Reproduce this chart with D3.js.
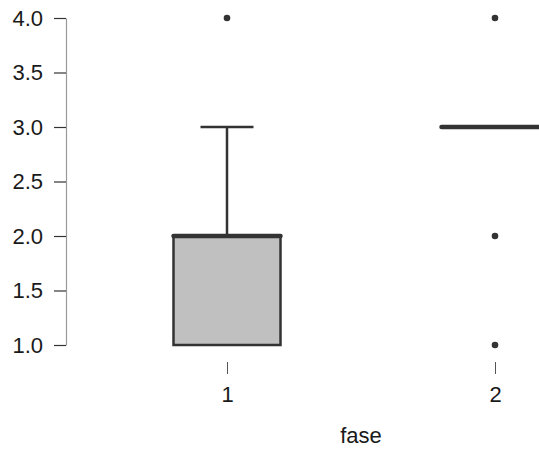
<!DOCTYPE html>
<html><head><meta charset="utf-8">
<script src="https://cdn.jsdelivr.net/npm/d3@7"></script>
<style>body{margin:0;background:#fff;overflow:hidden}svg{display:block}</style>
</head><body>
<svg id="c" width="539" height="450"></svg>
<script>
const categories = ["1", "2"];
const q1 = [1, 3];
const medians = [2, 3];
const q3 = [2, 3];
const whiskerLow = [1, 3];
const whiskerHigh = [3, 3];
const outliers = [[4], [4, 2, 1]];
const yTicks = [1.0, 1.5, 2.0, 2.5, 3.0, 3.5, 4.0];
const xLabel = "fase";

const svg = d3.select("#c");
const font = "Liberation Sans, Arial, sans-serif";
const fs = 22;
const y = d3.scaleLinear().domain([1, 4]).range([345, 18]);
const x = d3.scalePoint().domain(categories).range([227, 495]);
const boxW = 107, capW = 53;

const yAxis = svg.append("g").attr("transform", "translate(66,0)")
  .call(d3.axisLeft(y).tickValues(yTicks).tickFormat(d3.format(".1f")).tickSize(12).tickSizeOuter(0).tickPadding(11));
yAxis.select(".domain").attr("stroke", "#999").attr("stroke-width", 1.2);
yAxis.selectAll(".tick line").attr("stroke", "#333").attr("stroke-width", 1.2);
yAxis.selectAll(".tick text").attr("font-family", font).attr("font-size", fs).attr("fill", "#1a1a1a");

const xAxis = svg.append("g").attr("transform", "translate(0,362)")
  .call(d3.axisBottom(x).tickSize(12).tickSizeOuter(0).tickPadding(12));
xAxis.select(".domain").remove();
xAxis.selectAll(".tick line").attr("stroke", "#555").attr("stroke-width", 1);
xAxis.selectAll(".tick text").attr("font-family", font).attr("font-size", fs).attr("fill", "#1a1a1a");

svg.append("text").attr("x", (x("1") + x("2")) / 2).attr("y", 443)
  .attr("text-anchor", "middle").attr("font-family", font).attr("font-size", fs).attr("fill", "#1a1a1a").text(xLabel);

const stroke = "#333";
categories.forEach((c, i) => {
  const cx = x(c);
  const g = svg.append("g");
  g.append("line").attr("x1", cx).attr("x2", cx).attr("y1", y(q3[i])).attr("y2", y(whiskerHigh[i]))
    .attr("stroke", stroke).attr("stroke-width", 2.5);
  g.append("line").attr("x1", cx).attr("x2", cx).attr("y1", y(q1[i])).attr("y2", y(whiskerLow[i]))
    .attr("stroke", stroke).attr("stroke-width", 2.5);
  if (whiskerHigh[i] > q3[i])
    g.append("line").attr("x1", cx - capW / 2).attr("x2", cx + capW / 2).attr("y1", y(whiskerHigh[i])).attr("y2", y(whiskerHigh[i]))
      .attr("stroke", stroke).attr("stroke-width", 2.5);
  if (whiskerLow[i] < q1[i])
    g.append("line").attr("x1", cx - capW / 2).attr("x2", cx + capW / 2).attr("y1", y(whiskerLow[i])).attr("y2", y(whiskerLow[i]))
      .attr("stroke", stroke).attr("stroke-width", 2.5);
  g.append("rect").attr("x", cx - boxW / 2).attr("width", boxW)
    .attr("y", y(q3[i])).attr("height", Math.max(0, y(q1[i]) - y(q3[i])))
    .attr("fill", "#c0c0c0").attr("stroke", stroke).attr("stroke-width", 2.5);
  g.append("line").attr("x1", cx - boxW / 2).attr("x2", cx + boxW / 2).attr("y1", y(medians[i])).attr("y2", y(medians[i]))
    .attr("stroke", stroke).attr("stroke-width", 4.5).attr("stroke-linecap", "round");
  g.selectAll("circle").data(outliers[i]).join("circle")
    .attr("cx", cx).attr("cy", d => y(d)).attr("r", 3.3).attr("fill", stroke);
});
</script>
</body></html>
